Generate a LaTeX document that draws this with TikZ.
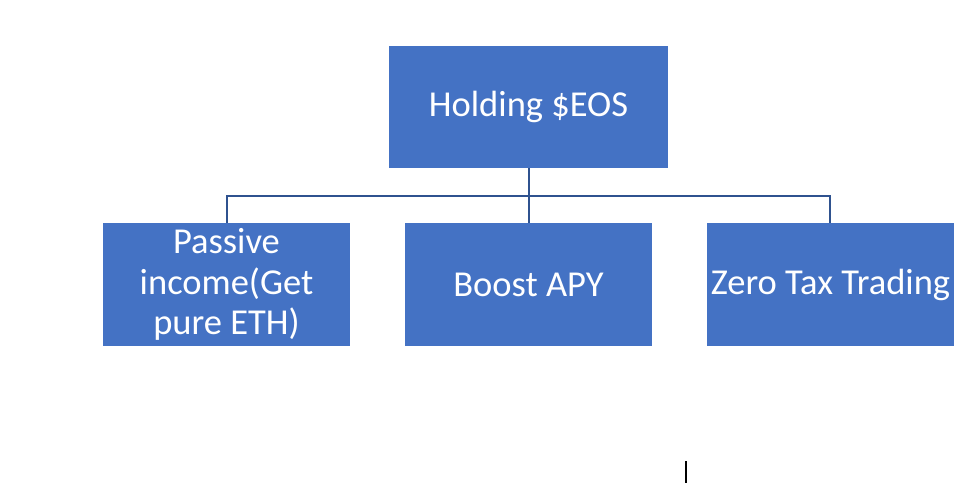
\documentclass[tikz,border=0pt]{standalone}
\usepackage{fontspec}
\setmainfont{Carlito}
\definecolor{boxblue}{HTML}{4472C4}
\definecolor{lineblue}{HTML}{2F528F}
\begin{document}
\begin{tikzpicture}[x=1pt,y=-1pt,
  bluebox/.style={fill=boxblue,draw=none,text=white,font=\fontsize{36.5}{40.5}\selectfont,align=center},
  conn/.style={draw=lineblue,line width=2pt}]
\useasboundingbox (0,0) rectangle (967,500);
\fill[white] (0,0) rectangle (967,500);
\node[bluebox,minimum width=279pt,minimum height=122pt] (top) at (528.5,107) {Holding \$EOS};
\node[bluebox,minimum width=247pt,minimum height=123pt] (pass) at (226.5,284.5) {Passive\\income(Get\\pure ETH)};
\node[bluebox,minimum width=247pt,minimum height=123pt] (boost) at (528.5,284.5) {Boost APY};
\node[bluebox,minimum width=247pt,minimum height=123pt,inner sep=0pt] (zero) at (830.5,284.5) {Zero Tax Trading};
\coordinate (jl) at (227,196);
\coordinate (jr) at (830,196);
\draw[conn] (top.south) -- (boost.north);
\draw[conn] (pass.north -| jl) -- (jl) -- (jr) -- (zero.north -| jr);
\coordinate (c1) at (686,461);
\coordinate (c2) at (686,483);
\draw[black,line width=1.2pt] (c1) -- (c2);
\end{tikzpicture}
\end{document}
